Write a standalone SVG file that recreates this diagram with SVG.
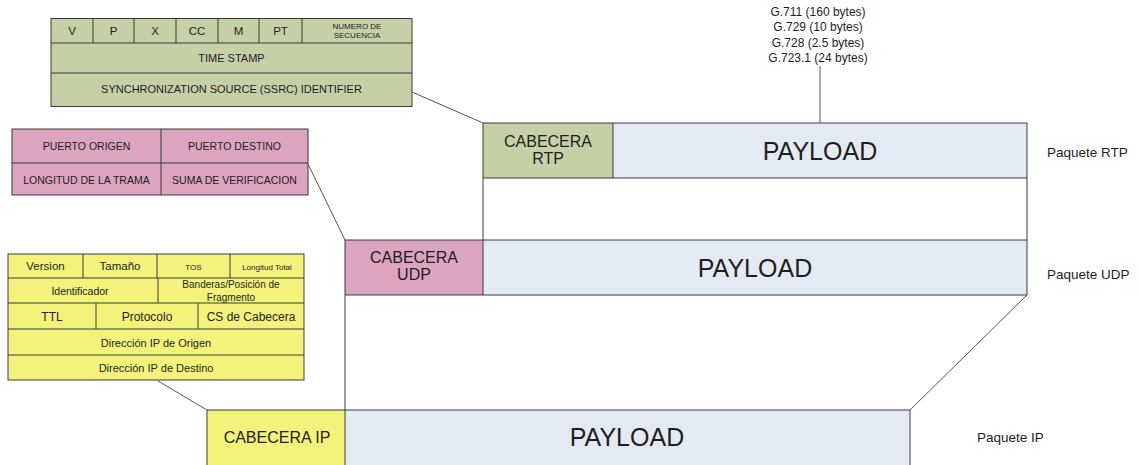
<svg xmlns="http://www.w3.org/2000/svg" width="1138" height="465" viewBox="0 0 1138 465">
  <style>
    text { font-family: "Liberation Sans", Arial, sans-serif; fill: #1e1e1e; text-anchor: middle; }
    .cell { stroke: #3a3a3a; stroke-width: 1; }
    .rtp { fill: #c6d0a6; }
    .udp { fill: #dca4bf; }
    .ip { fill: #f3f37b; }
    .pay { fill: #e4eaf4; }
    .link { stroke: #555; stroke-width: 1; fill: none; }
    .edge { stroke: #3a3a3a; stroke-width: 1; fill: none; }
    .lbl { text-anchor: start; font-size: 13.5px; }
    .big { font-size: 25px; }
    .hdr { font-size: 16px; }
  </style>

  <!-- RTP header layout -->
  <g id="rtp-fields">
    <rect class="cell rtp" x="51" y="18.5" width="361" height="88"/>
    <line class="cell" x1="51" y1="43" x2="412" y2="43"/>
    <line class="cell" x1="51" y1="73" x2="412" y2="73"/>
    <line class="cell" x1="93" y1="18.5" x2="93" y2="43"/>
    <line class="cell" x1="134" y1="18.5" x2="134" y2="43"/>
    <line class="cell" x1="176" y1="18.5" x2="176" y2="43"/>
    <line class="cell" x1="218" y1="18.5" x2="218" y2="43"/>
    <line class="cell" x1="259" y1="18.5" x2="259" y2="43"/>
    <line class="cell" x1="302" y1="18.5" x2="302" y2="43"/>
    <g font-size="11.5">
      <text x="72" y="35">V</text>
      <text x="113.5" y="35">P</text>
      <text x="155" y="35">X</text>
      <text x="197" y="35">CC</text>
      <text x="238.5" y="35">M</text>
      <text x="280.5" y="35">PT</text>
    </g>
    <text x="357" y="28.5" font-size="8">NUMERO DE</text>
    <text x="357" y="38" font-size="8">SECUENCIA</text>
    <text x="231.5" y="62" font-size="11">TIME STAMP</text>
    <text x="231.5" y="93" font-size="11">SYNCHRONIZATION SOURCE (SSRC) IDENTIFIER</text>
  </g>

  <!-- UDP header layout -->
  <g id="udp-fields">
    <rect class="cell udp" x="12" y="129" width="296" height="66"/>
    <line class="cell" x1="12" y1="163" x2="308" y2="163"/>
    <line class="cell" x1="161" y1="129" x2="161" y2="195"/>
    <g font-size="10.5">
      <text x="86.5" y="149.5">PUERTO ORIGEN</text>
      <text x="234.5" y="149.5">PUERTO DESTINO</text>
      <text x="86.5" y="183.5">LONGITUD DE LA TRAMA</text>
      <text x="234.5" y="183.5">SUMA DE VERIFICACION</text>
    </g>
  </g>

  <!-- IP header layout -->
  <g id="ip-fields">
    <rect class="cell ip" x="8" y="254" width="296" height="126"/>
    <line class="cell" x1="8" y1="278" x2="304" y2="278"/>
    <line class="cell" x1="8" y1="303" x2="304" y2="303"/>
    <line class="cell" x1="8" y1="329" x2="304" y2="329"/>
    <line class="cell" x1="8" y1="355" x2="304" y2="355"/>
    <line class="cell" x1="83" y1="254" x2="83" y2="278"/>
    <line class="cell" x1="157" y1="254" x2="157" y2="278"/>
    <line class="cell" x1="230" y1="254" x2="230" y2="278"/>
    <line class="cell" x1="158" y1="278" x2="158" y2="303"/>
    <line class="cell" x1="96" y1="303" x2="96" y2="329"/>
    <line class="cell" x1="198" y1="303" x2="198" y2="329"/>
    <text x="45.5" y="270" font-size="11.5">Version</text>
    <text x="120" y="270" font-size="11.5">Tamaño</text>
    <text x="193.5" y="269.5" font-size="8">TOS</text>
    <text x="267" y="269.5" font-size="8">Longitud Total</text>
    <text x="80" y="295" font-size="10.5">Identificador</text>
    <text x="231" y="287.5" font-size="10">Banderas/Posición de</text>
    <text x="231" y="300.5" font-size="10">Fragmento</text>
    <text x="52" y="320.5" font-size="12">TTL</text>
    <text x="147" y="320.5" font-size="12">Protocolo</text>
    <text x="251" y="320.5" font-size="12">CS de Cabecera</text>
    <text x="156" y="346.5" font-size="11">Dirección IP de Origen</text>
    <text x="156" y="371.5" font-size="11">Dirección IP de Destino</text>
  </g>

  <!-- codec payload sizes -->
  <g id="codecs" font-size="12">
    <text x="818" y="16">G.711 (160 bytes)</text>
    <text x="818" y="31">G.729 (10 bytes)</text>
    <text x="818" y="47">G.728 (2.5 bytes)</text>
    <text x="818" y="62">G.723.1 (24 bytes)</text>
  </g>

  <!-- RTP packet -->
  <g id="rtp-packet">
    <rect class="pay" x="613" y="123" width="414" height="55"/>
    <rect class="rtp" x="483" y="123" width="130" height="55"/>
    <line class="edge" x1="483" y1="123" x2="1027" y2="123"/>
    <line class="edge" x1="483" y1="178" x2="1027" y2="178"/>
    <line class="edge" x1="1027" y1="123" x2="1027" y2="178"/>
    <line class="edge" x1="483" y1="123" x2="483" y2="178"/>
    <line class="edge" x1="613" y1="123" x2="613" y2="178" stroke="#6a6a6a"/>
    <text class="hdr" x="548" y="147">CABECERA</text>
    <text class="hdr" x="548" y="164">RTP</text>
    <text class="big" x="820" y="160">PAYLOAD</text>
    <text class="lbl" x="1047" y="157">Paquete RTP</text>
  </g>

  <!-- UDP packet -->
  <g id="udp-packet">
    <rect class="pay" x="483" y="240" width="544" height="55"/>
    <rect class="udp" x="345" y="240" width="138" height="55"/>
    <line class="edge" x1="345" y1="240" x2="1027" y2="240"/>
    <line class="edge" x1="345" y1="295" x2="1027" y2="295"/>
    <line class="edge" x1="1027" y1="240" x2="1027" y2="295"/>
    <line class="edge" x1="345" y1="240" x2="345" y2="295"/>
    <line class="edge" x1="483" y1="240" x2="483" y2="295" stroke="#6a6a6a"/>
    <text class="hdr" x="414" y="263">CABECERA</text>
    <text class="hdr" x="414" y="280">UDP</text>
    <text class="big" x="755" y="277">PAYLOAD</text>
    <text class="lbl" x="1047" y="279">Paquete UDP</text>
  </g>

  <!-- IP packet -->
  <g id="ip-packet">
    <rect class="pay" x="345" y="410" width="565" height="60"/>
    <rect class="ip" x="207" y="410" width="138" height="60"/>
    <line class="edge" x1="207" y1="410" x2="910" y2="410"/>
    <line class="edge" x1="910" y1="410" x2="910" y2="465"/>
    <line class="edge" x1="207" y1="410" x2="207" y2="465"/>
    <line class="edge" x1="345" y1="410" x2="345" y2="465" stroke="#6a6a6a"/>
    <text class="hdr" x="277" y="443">CABECERA IP</text>
    <text class="big" x="627" y="446">PAYLOAD</text>
    <text class="lbl" x="977" y="442">Paquete IP</text>
  </g>

  <!-- connectors -->
  <g id="connectors">
    <line class="link" x1="412" y1="92" x2="483" y2="123"/>
    <line class="link" x1="308" y1="164" x2="345" y2="240"/>
    <line class="link" x1="158" y1="381" x2="207" y2="410"/>
    <line class="link" x1="820" y1="66" x2="820" y2="123"/>
    <line class="edge" x1="483" y1="178" x2="483" y2="240"/>
    <line class="edge" x1="1027" y1="178" x2="1027" y2="240"/>
    <line class="edge" x1="345" y1="295" x2="345" y2="410"/>
    <line class="link" x1="1027" y1="295" x2="910" y2="410"/>
  </g>
</svg>
